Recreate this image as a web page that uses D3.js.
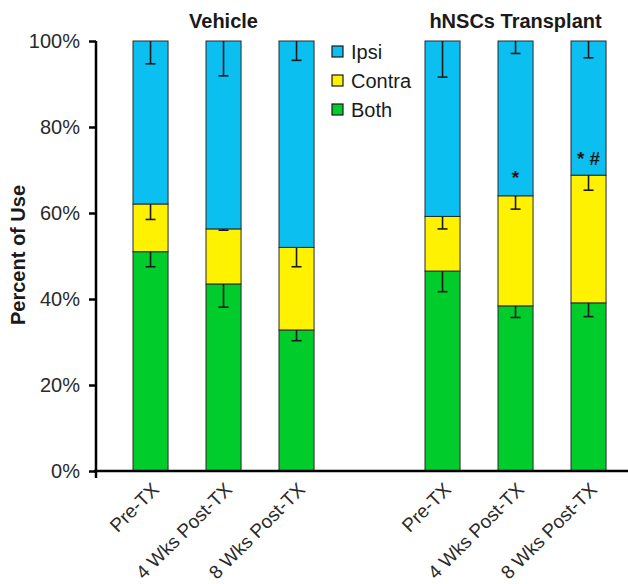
<!DOCTYPE html>
<html>
<head>
<meta charset="utf-8">
<script src="https://cdn.jsdelivr.net/npm/d3@7"></script>
<style>
  body { margin: 0; background: #fff; }
  svg { font-family: "Liberation Sans", Arial, sans-serif; }
</style>
</head>
<body>
<svg width="628" height="584"></svg>
<script>
// slot ids along the x axis ("gap" is the empty space between the two groups)
const slots = ['v0', 'v1', 'v2', 'gap', 't0', 't1', 't2'];
const barSlots = ['v0', 'v1', 'v2', 't0', 't1', 't2'];
const barLabels = ['Pre-TX', '4 Wks Post-TX', '8 Wks Post-TX', 'Pre-TX', '4 Wks Post-TX', '8 Wks Post-TX'];
const groupTitles = ['Vehicle', 'hNSCs Transplant'];

// percent of use, stacked from the bottom: Both, Contra, Ipsi
const bothVals = [51.0, 43.5, 32.8, 46.5, 38.4, 39.1];
const contraVals = [11.1, 12.8, 19.2, 12.7, 25.6, 29.7];
const ipsiVals = [37.9, 43.7, 48.0, 40.8, 36.0, 31.2];

// error bars (drawn down from the top of each segment)
const bothErr = [3.5, 5.4, 2.5, 4.8, 2.7, 3.2];
const contraErr = [3.6, 0.3, 4.5, 2.9, 3.1, 3.5];
const ipsiErr = [5.3, 8.1, 4.5, 8.4, 2.9, 3.9];

const seriesKeys = ['Both', 'Contra', 'Ipsi'];
const legendKeys = ['Ipsi', 'Contra', 'Both'];
const colors = { Ipsi: '#0bbff0', Contra: '#fff200', Both: '#00cc2b' };

// significance marks: slot, text, y in percent
const sigSlots = ['t1', 't2'];
const sigTexts = ['*', '* #'];
const sigY = [66.8, 71.2];

const svg = d3.select('svg');
const left = 96;
const y = d3.scaleLinear().domain([0, 100]).range([471, 41]);
const step = 73;
const x = d3.scaleBand()
  .domain(slots)
  .range([left, left + step * (7 - 0.52 + 2 * 0.507)])
  .paddingInner(0.52)
  .paddingOuter(0.507);

const table = barSlots.map((s, i) => ({
  slot: s,
  Both: bothVals[i],
  Contra: contraVals[i],
  Ipsi: ipsiVals[i],
  err: { Both: bothErr[i], Contra: contraErr[i], Ipsi: ipsiErr[i] },
}));

const stacked = d3.stack().keys(seriesKeys)(table);

const layers = svg.append('g')
  .selectAll('g')
  .data(stacked)
  .join('g')
  .attr('fill', d => colors[d.key]);

layers.selectAll('rect')
  .data(d => d)
  .join('rect')
  .attr('x', d => x(d.data.slot))
  .attr('width', x.bandwidth())
  .attr('y', d => y(d[1]))
  .attr('height', d => y(d[0]) - y(d[1]))
  .attr('stroke', '#2a2a2a')
  .attr('stroke-width', 1);

// error bars
const errG = svg.append('g').attr('stroke', '#1a1a1a').attr('stroke-width', 1.6);
stacked.forEach((layer) => {
  layer.forEach((d) => {
    const cx = x(d.data.slot) + x.bandwidth() / 2;
    const e = d.data.err[layer.key];
    errG.append('line')
      .attr('x1', cx).attr('x2', cx)
      .attr('y1', y(d[1])).attr('y2', y(d[1] - e));
    errG.append('line')
      .attr('x1', cx - 5).attr('x2', cx + 5)
      .attr('y1', y(d[1] - e)).attr('y2', y(d[1] - e));
  });
});

// significance marks
svg.append('g')
  .selectAll('text')
  .data(sigSlots)
  .join('text')
  .attr('x', d => x(d) + x.bandwidth() / 2)
  .attr('y', (d, i) => y(sigY[i]))
  .attr('text-anchor', 'middle')
  .attr('font-size', 19)
  .attr('font-weight', 'bold')
  .attr('fill', '#1a1a1a')
  .text((d, i) => sigTexts[i]);

// y axis
const yAxis = svg.append('g')
  .attr('transform', `translate(${left},0)`)
  .call(d3.axisLeft(y)
    .tickValues([0, 20, 40, 60, 80, 100])
    .tickFormat(d => `${d}%`)
    .tickSize(7)
    .tickSizeOuter(0)
    .tickPadding(9));
yAxis.select('.domain').remove();
yAxis.selectAll('.tick line').attr('stroke', '#000').attr('stroke-width', 2.5);
yAxis.selectAll('.tick text')
  .attr('font-size', 20)
  .attr('fill', '#2a2a2a')
  .attr('font-family', '"Liberation Sans", Arial, sans-serif');
svg.append('line')
  .attr('x1', left).attr('x2', left)
  .attr('y1', y(100)).attr('y2', y(0) + 7)
  .attr('stroke', '#000').attr('stroke-width', 2.5);

// x axis
const xAxis = svg.append('g')
  .attr('transform', `translate(0,${y(0)})`)
  .call(d3.axisBottom(x)
    .tickValues(barSlots)
    .tickFormat((d, i) => barLabels[i])
    .tickSize(0));
xAxis.select('.domain').remove();
xAxis.selectAll('.tick text')
  .attr('font-size', 19)
  .attr('fill', '#2a2a2a')
  .attr('font-family', '"Liberation Sans", Arial, sans-serif')
  .attr('text-anchor', 'end')
  .attr('x', 0)
  .attr('y', 0)
  .attr('dy', '0.35em')
  .attr('transform', 'translate(5,15) rotate(-45)');
svg.append('line')
  .attr('x1', left - 2).attr('x2', 628)
  .attr('y1', y(0)).attr('y2', y(0))
  .attr('stroke', '#000').attr('stroke-width', 2.5);

// y axis title
svg.append('text')
  .attr('transform', `translate(25,${(y(0) + y(100)) / 2 - 1}) rotate(-90)`)
  .attr('text-anchor', 'middle')
  .attr('font-size', 20)
  .attr('font-weight', 'bold')
  .attr('fill', '#1a1a1a')
  .text('Percent of Use');

// group titles
const groupCenters = [
  (x('v0') + x('v2') + x.bandwidth()) / 2,
  (x('t0') + x('t2') + x.bandwidth()) / 2,
];
svg.append('g')
  .selectAll('text')
  .data(groupTitles)
  .join('text')
  .attr('x', (d, i) => groupCenters[i])
  .attr('y', 28)
  .attr('text-anchor', 'middle')
  .attr('font-size', 20)
  .attr('font-weight', 'bold')
  .attr('fill', '#1a1a1a')
  .text(d => d);

// legend
const legend = svg.append('g').attr('transform', 'translate(332,46)');
const items = legend.selectAll('g')
  .data(legendKeys)
  .join('g')
  .attr('transform', (d, i) => `translate(0,${i * 29})`);
items.append('rect')
  .attr('width', 11)
  .attr('height', 11)
  .attr('fill', d => colors[d])
  .attr('stroke', '#1a1a1a')
  .attr('stroke-width', 1.2);
items.append('text')
  .attr('x', 19)
  .attr('y', 6)
  .attr('dy', '0.35em')
  .attr('font-size', 20)
  .attr('fill', '#1a1a1a')
  .text(d => d);
</script>
</body>
</html>
